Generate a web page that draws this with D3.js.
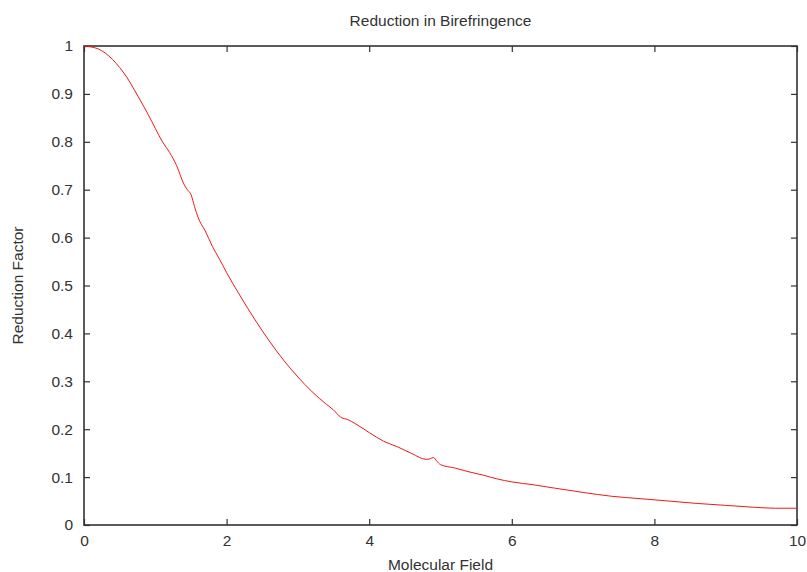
<!DOCTYPE html>
<html>
<head>
<meta charset="utf-8">
<script src="https://cdn.jsdelivr.net/npm/d3@7"></script>
<style>
  html, body { margin: 0; padding: 0; background: #fff; }
  svg { display: block; }
  text { font-family: "Liberation Sans", Arial, Helvetica, sans-serif; fill: #333; }
</style>
</head>
<body>
<svg id="chart" width="807" height="572"></svg>
<script>
// Molecular field strength (x) and birefringence reduction factor (y)
const fieldValues = [0, 0.1, 0.2, 0.3, 0.4, 0.5, 0.6, 0.7, 0.8, 0.9, 1.0, 1.1, 1.2, 1.3, 1.4, 1.45, 1.5, 1.55, 1.6, 1.7, 1.8, 1.9, 2.0,
  2.2, 2.4, 2.6, 2.8, 3.0, 3.2, 3.4, 3.5, 3.6, 3.7, 3.8, 4.0, 4.2, 4.4, 4.6, 4.8, 4.85, 4.9, 4.95, 5.0,
  5.2, 5.4, 5.6, 5.8, 6.0, 6.3, 6.6, 7.0, 7.4, 7.8, 8.2, 8.6, 9.0, 9.4, 9.7, 10];
const reductionValues = [1.000, 0.998, 0.994, 0.985, 0.972, 0.955, 0.935, 0.910, 0.884, 0.857, 0.828, 0.800, 0.778, 0.750, 0.712, 0.700, 0.690, 0.665, 0.642, 0.614, 0.582, 0.555, 0.527,
  0.476, 0.428, 0.384, 0.344, 0.309, 0.278, 0.252, 0.240, 0.225, 0.220, 0.212, 0.193, 0.175, 0.163, 0.149, 0.137, 0.138, 0.141, 0.133, 0.126,
  0.119, 0.111, 0.104, 0.096, 0.090, 0.084, 0.077, 0.068, 0.060, 0.055, 0.050, 0.045, 0.041, 0.037, 0.035, 0.035];
const xTicks = [0, 2, 4, 6, 8, 10];
const yTicks = [0, 0.1, 0.2, 0.3, 0.4, 0.5, 0.6, 0.7, 0.8, 0.9, 1];

const titleText = "Reduction in Birefringence";
const xLabelText = "Molecular Field";
const yLabelText = "Reduction Factor";

const svg = d3.select("#chart");
const margin = { left: 84, right: 10, top: 46, bottom: 47 };
const W = 807, H = 572;
const x = d3.scaleLinear().domain([0, 10]).range([margin.left, W - margin.right]);
const y = d3.scaleLinear().domain([0, 1]).range([H - margin.bottom, margin.top]);

const tickLen = 6;
const fontSize = "15.5px";
const fmtY = d => d === 0 || d === 1 ? String(d) : d3.format(".1f")(d);

// Bottom axis with labels, ticks pointing inward
const gx = svg.append("g").attr("transform", `translate(0,${y(0)})`)
  .call(d3.axisBottom(x).tickValues(xTicks).tickSize(-tickLen).tickSizeOuter(0).tickPadding(10).tickFormat(d3.format("d")));
// Top mirrored ticks
const gxt = svg.append("g").attr("transform", `translate(0,${y(1)})`)
  .call(d3.axisTop(x).tickValues(xTicks).tickSize(-tickLen).tickSizeOuter(0).tickFormat(""));
// Left axis with labels
const gy = svg.append("g").attr("transform", `translate(${x(0)},0)`)
  .call(d3.axisLeft(y).tickValues(yTicks).tickSize(-tickLen).tickSizeOuter(0).tickPadding(11).tickFormat(fmtY));
// Right mirrored ticks
const gyr = svg.append("g").attr("transform", `translate(${x(10)},0)`)
  .call(d3.axisRight(y).tickValues(yTicks).tickSize(-tickLen).tickSizeOuter(0).tickFormat(""));

[gx, gxt, gy, gyr].forEach(g => {
  g.select(".domain").remove();
  g.selectAll(".tick line").attr("stroke", "#333").attr("stroke-width", 1.2);
  g.selectAll(".tick text").style("font-size", fontSize).attr("fill", "#333");
});

// Plot frame
svg.append("rect")
  .attr("x", x(0)).attr("y", y(1))
  .attr("width", x(10) - x(0)).attr("height", y(0) - y(1))
  .attr("fill", "none").attr("stroke", "#333").attr("stroke-width", 1.6);

// Curve
const pts = fieldValues.map((v, i) => [v, reductionValues[i]]);
svg.append("path")
  .datum(pts)
  .attr("fill", "none")
  .attr("stroke", "#f01818")
  .attr("stroke-width", 1)
  .attr("d", d3.line().x(d => x(d[0])).y(d => y(d[1])).curve(d3.curveMonotoneX));

// Title and axis labels
svg.append("text").attr("x", (x(0) + x(10)) / 2).attr("y", 26)
  .attr("text-anchor", "middle").style("font-size", fontSize).text(titleText);
svg.append("text").attr("x", (x(0) + x(10)) / 2).attr("y", 570)
  .attr("text-anchor", "middle").style("font-size", fontSize).text(xLabelText);
svg.append("text")
  .attr("transform", `translate(23,${(y(0) + y(1)) / 2}) rotate(-90)`)
  .attr("text-anchor", "middle").style("font-size", fontSize).text(yLabelText);
</script>
</body>
</html>
